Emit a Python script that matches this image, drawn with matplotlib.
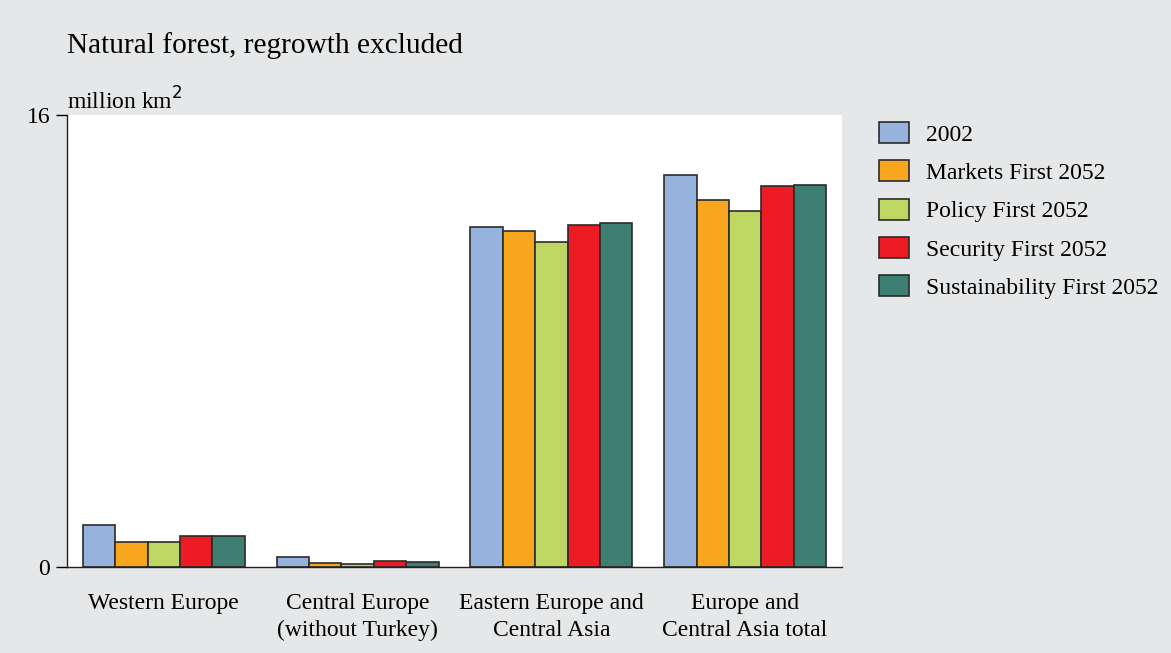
import matplotlib.pyplot as plt
import numpy as np

plt.rcParams['font.family'] = ['Liberation Serif', 'DejaVu Serif']

regions = ["Western Europe", "Central Europe\n(without Turkey)",
           "Eastern Europe and\nCentral Asia", "Europe and\nCentral Asia total"]
series = ["2002", "Markets First 2052", "Policy First 2052",
          "Security First 2052", "Sustainability First 2052"]
colors = ["#95b3dd", "#f8a61e", "#bdd762", "#ed1c24", "#3e7f74"]

y2002 = [1.48, 0.34, 12.04, 13.89]
markets = [0.90, 0.15, 11.91, 12.98]
policy = [0.90, 0.11, 11.52, 12.61]
security = [1.11, 0.20, 12.10, 13.49]
sustainability = [1.11, 0.18, 12.16, 13.51]
values = [y2002, markets, policy, security, sustainability]

bg = "#e6e7e8"
fig = plt.figure(figsize=(11.71, 6.53), dpi=100, facecolor=bg)
ax = fig.add_axes([67 / 1171, 1 - 567 / 653, 775 / 1171, 452 / 653])
ax.set_facecolor("white")

x = np.arange(len(regions))
w = 0.167
for i, (name, vals) in enumerate(zip(series, values)):
    ax.bar(x + (i - 2) * w, vals, w, color=colors[i], edgecolor="#2b2b2b",
           linewidth=1.2, label=name)

ax.set_xlim(-0.5, 3.5)
ax.set_ylim(0, 16)
ax.set_yticks([0, 16])
ax.set_yticklabels(["0", "16"], fontsize=17)
ax.set_xticks(x)
ax.set_xticklabels(regions, fontsize=17, linespacing=1.34)
ax.tick_params(axis="x", length=0, pad=19)
ax.tick_params(axis="y", length=8, width=1, direction="out", pad=4)
for s in ["top", "right"]:
    ax.spines[s].set_visible(False)
for s in ["left", "bottom"]:
    ax.spines[s].set_linewidth(1.0)
    ax.spines[s].set_color("#222222")

fig.text(67 / 1171, 1 - 46 / 653, "Natural forest, regrowth excluded",
         fontsize=21.2, va="center", ha="left")
fig.text(67 / 1171, 1 - 101 / 653, "million km$^2$", fontsize=17,
         va="center", ha="left")

leg = ax.legend(loc="upper left", bbox_to_anchor=(879 / 1171, 1 - 122 / 653),
                bbox_transform=fig.transFigure, frameon=False, fontsize=17,
                borderpad=0, borderaxespad=0,
                handlelength=1.27, handleheight=1.0, handletextpad=0.7,
                labelspacing=0.62)

fig.savefig("out.png", dpi=100, facecolor=bg)
